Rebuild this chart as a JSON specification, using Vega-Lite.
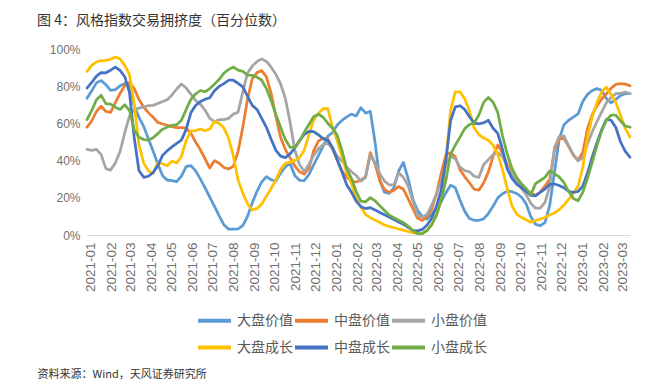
{
"$schema": "https://vega.github.io/schema/vega-lite/v6.json",
"width": 543, "height": 186,
"autosize": {"type": "none"},
"padding": {"left": 87, "top": 49, "right": 37, "bottom": 153},
"background": "white",
"config": {"view": {"stroke": null}, "font": "Noto Sans CJK SC"},
"title": {"text": "图 4：风格指数交易拥挤度（百分位数）", "anchor": "start", "frame": "group", "dx": -50, "offset": 15, "fontSize": 14, "fontWeight": "normal", "color": "#333333", "font": "Noto Sans CJK SC"},
"data": {"values": [
{"t":"2020/12/27","a":73.5,"b":58,"c":46,"d":88,"e":79,"f":62},
{"t":"2021/01/03","a":77.6,"b":61.3,"c":45.5,"d":91.2,"e":82,"f":67},
{"t":"2021/01/10","a":81.8,"b":66.4,"c":46,"d":93,"e":85.4,"f":72.7},
{"t":"2021/01/17","a":83,"b":69.3,"c":43.2,"d":93.8,"e":87.3,"f":75.1},
{"t":"2021/01/24","a":80.8,"b":66.4,"c":35.7,"d":93.8,"e":87.2,"f":70.6},
{"t":"2021/01/31","a":77.8,"b":65.9,"c":34.9,"d":94.5,"e":88.6,"f":70.4},
{"t":"2021/02/07","a":78.1,"b":71,"c":38.7,"d":95.7,"e":90.3,"f":68.7},
{"t":"2021/02/14","a":80.2,"b":76.1,"c":44.9,"d":94.7,"e":88.5,"f":67.5},
{"t":"2021/02/21","a":81.4,"b":80.4,"c":55,"d":91.2,"e":85.1,"f":70},
{"t":"2021/02/28","a":80,"b":82,"c":63.9,"d":86.2,"e":76.5,"f":67},
{"t":"2021/03/07","a":69.5,"b":78.7,"c":67.5,"d":70.5,"e":52.3,"f":56.5},
{"t":"2021/03/14","a":63.3,"b":72.9,"c":68.2,"d":48.3,"e":34.7,"f":52.5},
{"t":"2021/03/21","a":58.4,"b":68.8,"c":68.9,"d":38.8,"e":31,"f":51.3},
{"t":"2021/03/28","a":51.8,"b":65.8,"c":69.5,"d":34.5,"e":31.6,"f":51},
{"t":"2021/04/04","a":45.2,"b":63.3,"c":69.7,"d":33.1,"e":33.6,"f":52.3},
{"t":"2021/04/11","a":38.2,"b":60.5,"c":70.7,"d":39,"e":37.3,"f":54.5},
{"t":"2021/04/18","a":31.8,"b":59.7,"c":71.8,"d":38.3,"e":42.8,"f":56.8},
{"t":"2021/04/25","a":29.5,"b":59,"c":72.7,"d":37.2,"e":45.3,"f":58.1},
{"t":"2021/05/02","a":29.2,"b":58.2,"c":75.3,"d":39.8,"e":47.4,"f":59},
{"t":"2021/05/09","a":28.7,"b":57.7,"c":78.5,"d":38.7,"e":49.3,"f":59.3},
{"t":"2021/05/16","a":31.7,"b":57.7,"c":81.2,"d":42.2,"e":51,"f":61.7},
{"t":"2021/05/23","a":36.8,"b":57.4,"c":79,"d":50.8,"e":56.8,"f":67.5},
{"t":"2021/05/30","a":37.3,"b":54.8,"c":75.7,"d":56,"e":65.8,"f":72.9},
{"t":"2021/06/06","a":34.5,"b":50,"c":72.3,"d":56.1,"e":69.6,"f":75.8},
{"t":"2021/06/13","a":30.2,"b":45.8,"c":70.3,"d":57,"e":71.7,"f":77.7},
{"t":"2021/06/20","a":25.4,"b":41,"c":67.2,"d":56,"e":73,"f":77},
{"t":"2021/06/27","a":20.4,"b":36,"c":62.7,"d":57,"e":73.8,"f":78.7},
{"t":"2021/07/04","a":15.4,"b":40,"c":61,"d":61,"e":77.6,"f":81.1},
{"t":"2021/07/11","a":10.3,"b":38.6,"c":62,"d":60,"e":79.9,"f":83.7},
{"t":"2021/07/18","a":5.5,"b":36.3,"c":62,"d":57.5,"e":81.4,"f":87},
{"t":"2021/07/25","a":3.1,"b":35.5,"c":62.7,"d":52,"e":83.2,"f":89},
{"t":"2021/08/01","a":3.1,"b":37,"c":65,"d":42.5,"e":83.2,"f":90.3},
{"t":"2021/08/08","a":3.3,"b":45,"c":66,"d":29.5,"e":81.5,"f":88.6},
{"t":"2021/08/15","a":5,"b":58,"c":77,"d":22.5,"e":79.7,"f":88},
{"t":"2021/08/22","a":10,"b":73,"c":87,"d":16.8,"e":74.6,"f":85.9},
{"t":"2021/08/29","a":17.3,"b":84,"c":90.8,"d":13.4,"e":69.7,"f":85.8},
{"t":"2021/09/05","a":23.5,"b":87.3,"c":93.3,"d":14.3,"e":67.5,"f":84.9},
{"t":"2021/09/12","a":28.5,"b":88.4,"c":94.7,"d":16.6,"e":62.7,"f":83.2},
{"t":"2021/09/19","a":31.4,"b":85,"c":93.3,"d":20.9,"e":57.9,"f":78.7},
{"t":"2021/09/26","a":29.7,"b":76.2,"c":90.2,"d":25,"e":51.5,"f":72.3},
{"t":"2021/10/03","a":29,"b":63.7,"c":86.4,"d":29.6,"e":45.5,"f":64.8},
{"t":"2021/10/10","a":33.2,"b":52.5,"c":81.2,"d":35.3,"e":42.4,"f":58},
{"t":"2021/10/17","a":36.6,"b":46,"c":73.5,"d":38.5,"e":41.6,"f":51.4},
{"t":"2021/10/24","a":38.5,"b":41.5,"c":60.7,"d":39.2,"e":43.6,"f":47.2},
{"t":"2021/10/31","a":32,"b":37.2,"c":45.8,"d":40,"e":46.7,"f":47},
{"t":"2021/11/07","a":29.4,"b":34,"c":37.9,"d":41.6,"e":50.8,"f":50.4},
{"t":"2021/11/14","a":29.2,"b":32.8,"c":34.1,"d":45.6,"e":53.9,"f":55.2},
{"t":"2021/11/21","a":32.5,"b":35.8,"c":37.9,"d":53.8,"e":55.7,"f":59.4},
{"t":"2021/11/28","a":37.7,"b":45.2,"c":42.7,"d":61.8,"e":55.6,"f":63.6},
{"t":"2021/12/05","a":42.7,"b":50.5,"c":46.3,"d":65.3,"e":53.9,"f":65},
{"t":"2021/12/12","a":47.8,"b":52,"c":48.6,"d":67.9,"e":51.8,"f":63.3},
{"t":"2021/12/19","a":53,"b":51.7,"c":49.3,"d":67.9,"e":50.9,"f":60.1},
{"t":"2021/12/26","a":55.1,"b":46.3,"c":46.5,"d":57.8,"e":47,"f":57.4},
{"t":"2022/01/02","a":59.2,"b":40.2,"c":42.4,"d":50.5,"e":40.5,"f":53.6},
{"t":"2022/01/09","a":61.6,"b":34.5,"c":39.8,"d":42.2,"e":33.8,"f":45.5},
{"t":"2022/01/16","a":63.5,"b":31,"c":36.4,"d":33.7,"e":27,"f":35.5},
{"t":"2022/01/23","a":65,"b":29,"c":34,"d":27.5,"e":23,"f":30.5},
{"t":"2022/01/30","a":64,"b":28.5,"c":32,"d":19.8,"e":18.2,"f":23.5},
{"t":"2022/02/06","a":68.5,"b":29.4,"c":29,"d":15,"e":15.2,"f":18.2},
{"t":"2022/02/13","a":65.5,"b":31.4,"c":31,"d":11,"e":14.2,"f":17.8},
{"t":"2022/02/20","a":66.5,"b":44.3,"c":43,"d":9.3,"e":14.7,"f":20.1},
{"t":"2022/02/27","a":50,"b":38.2,"c":39,"d":8,"e":13.5,"f":18.4},
{"t":"2022/03/06","a":29.6,"b":29.2,"c":33,"d":6.8,"e":12.1,"f":15.8},
{"t":"2022/03/13","a":23,"b":24.5,"c":29,"d":5.4,"e":10.9,"f":13.2},
{"t":"2022/03/20","a":22.4,"b":22.9,"c":27,"d":4.6,"e":9.6,"f":10.7},
{"t":"2022/03/27","a":25.3,"b":24,"c":27,"d":3.9,"e":8.3,"f":9.3},
{"t":"2022/04/03","a":34.4,"b":26.1,"c":33.5,"d":3.2,"e":7,"f":8},
{"t":"2022/04/10","a":39,"b":24.6,"c":31,"d":2.6,"e":5.8,"f":6.7},
{"t":"2022/04/17","a":30.5,"b":19.6,"c":26.5,"d":1.9,"e":4.1,"f":4.8},
{"t":"2022/04/24","a":19.4,"b":14.3,"c":18.5,"d":1.3,"e":2.5,"f":2.4},
{"t":"2022/05/01","a":13.3,"b":9.1,"c":10.8,"d":0.7,"e":2.2,"f":0.8},
{"t":"2022/05/08","a":10,"b":7.8,"c":9.5,"d":0.8,"e":3,"f":0.8},
{"t":"2022/05/15","a":8.6,"b":9.7,"c":11,"d":2.4,"e":5.2,"f":2.4},
{"t":"2022/05/22","a":11.2,"b":13.9,"c":16,"d":5.6,"e":9,"f":5.5},
{"t":"2022/05/29","a":14.3,"b":22,"c":22,"d":11,"e":15.4,"f":10.5},
{"t":"2022/06/05","a":17.8,"b":33.1,"c":29,"d":20,"e":24,"f":18.3},
{"t":"2022/06/12","a":22.6,"b":43,"c":38,"d":40,"e":40,"f":29.3},
{"t":"2022/06/19","a":26.8,"b":44.2,"c":42.5,"d":67,"e":61.4,"f":43.4},
{"t":"2022/06/26","a":25.4,"b":42,"c":41,"d":77,"e":68.9,"f":48.3},
{"t":"2022/07/03","a":18.7,"b":35,"c":36.5,"d":77,"e":69.5,"f":52.6},
{"t":"2022/07/10","a":12.7,"b":31.3,"c":34.6,"d":73.2,"e":67.5,"f":57.2},
{"t":"2022/07/17","a":8.9,"b":28.1,"c":34,"d":66.8,"e":63.6,"f":59.4},
{"t":"2022/07/24","a":7.9,"b":24.6,"c":31.6,"d":57.5,"e":60.2,"f":60.2},
{"t":"2022/07/31","a":7.9,"b":24.1,"c":31,"d":54,"e":59.8,"f":64.5},
{"t":"2022/08/07","a":8.7,"b":28,"c":37.8,"d":52.1,"e":60.3,"f":71.3},
{"t":"2022/08/14","a":11.5,"b":33.8,"c":40.5,"d":50.9,"e":61.7,"f":74},
{"t":"2022/08/21","a":15.4,"b":42.3,"c":43.2,"d":48.3,"e":57.4,"f":71.4},
{"t":"2022/08/28","a":20,"b":48.4,"c":44.3,"d":43.4,"e":54.6,"f":65.9},
{"t":"2022/09/04","a":22.2,"b":44,"c":42.2,"d":35,"e":46,"f":53.2},
{"t":"2022/09/11","a":23.6,"b":38.2,"c":36.5,"d":24.9,"e":35.5,"f":43.6},
{"t":"2022/09/18","a":23.3,"b":32.5,"c":32.6,"d":15.6,"e":30.5,"f":35.8},
{"t":"2022/09/25","a":22.3,"b":28.7,"c":28.3,"d":11.2,"e":27.4,"f":31},
{"t":"2022/10/02","a":20.4,"b":26.2,"c":25.2,"d":9.5,"e":25.5,"f":27.5},
{"t":"2022/10/09","a":16.8,"b":24.3,"c":21.7,"d":8.2,"e":23.5,"f":25},
{"t":"2022/10/16","a":9.8,"b":22.6,"c":17,"d":6.9,"e":21.3,"f":21.7},
{"t":"2022/10/23","a":5.7,"b":21.3,"c":14.4,"d":7.8,"e":21,"f":27.6},
{"t":"2022/10/30","a":5,"b":23.1,"c":14.4,"d":8.6,"e":23,"f":29.3},
{"t":"2022/11/06","a":6.7,"b":26.5,"c":17.5,"d":9.4,"e":24.7,"f":31},
{"t":"2022/11/13","a":16,"b":29.9,"c":26,"d":10.7,"e":27.3,"f":34.5},
{"t":"2022/11/20","a":33.6,"b":45.3,"c":47,"d":11.8,"e":27.4,"f":33},
{"t":"2022/11/27","a":51.5,"b":51.7,"c":53,"d":13.6,"e":26.6,"f":31.3},
{"t":"2022/12/04","a":59.2,"b":51.9,"c":53.3,"d":16.1,"e":25.4,"f":28.2},
{"t":"2022/12/11","a":61.7,"b":47.6,"c":48.1,"d":19.2,"e":23.5,"f":23.5},
{"t":"2022/12/18","a":63.4,"b":42.9,"c":43.2,"d":22.4,"e":22.9,"f":19.6},
{"t":"2022/12/25","a":65.1,"b":40.2,"c":39.8,"d":26.3,"e":23.4,"f":18.4},
{"t":"2023/01/01","a":71.8,"b":44.5,"c":41.5,"d":36.2,"e":26.3,"f":22.9},
{"t":"2023/01/08","a":75.6,"b":57.1,"c":49,"d":53,"e":33.3,"f":30.5},
{"t":"2023/01/15","a":77.7,"b":64.7,"c":55.5,"d":63.5,"e":42,"f":39.1},
{"t":"2023/01/22","a":78.7,"b":69.4,"c":61,"d":71.2,"e":49.6,"f":48.1},
{"t":"2023/01/29","a":77.8,"b":73.1,"c":66.1,"d":77,"e":56.6,"f":56},
{"t":"2023/02/05","a":73.3,"b":75.9,"c":71.2,"d":79.5,"e":62.2,"f":61.7},
{"t":"2023/02/12","a":71.1,"b":78.9,"c":73.9,"d":75.5,"e":61.7,"f":64.5},
{"t":"2023/02/19","a":72.9,"b":81,"c":76,"d":71.3,"e":57.8,"f":64.5},
{"t":"2023/02/26","a":75,"b":81.4,"c":76.1,"d":64.3,"e":50,"f":61.3},
{"t":"2023/03/05","a":76,"b":81.1,"c":76.9,"d":57.3,"e":44.9,"f":58.6},
{"t":"2023/03/12","a":76,"b":80.2,"c":76,"d":52.6,"e":41.8,"f":58}
]},
"transform": [{"fold": ["a","b","c","d","e","f"], "as": ["s","v"]}],
"mark": {"type": "line", "strokeWidth": 2.75, "strokeJoin": "round", "strokeCap": "round"},
"encoding": {
  "x": {"field": "t", "type": "temporal", "scale": {"nice": false, "padding": 0},
    "axis": {"format": "%Y-%m", "tickCount": {"interval": "month", "step": 1}, "labelAngle": 270, "labelPadding": 7, "ticks": false, "grid": false, "domainColor": "#D9D9D9", "domainWidth": 1, "labelColor": "#707070", "labelFontSize": 13.5, "labelFont": "Liberation Sans", "labelOverlap": false, "labelFlush": false,
      "title": "资料来源：Wind，天风证券研究所", "titleX": -50, "titleY": 139, "titleAlign": "left", "titleAnchor": "start", "titleBaseline": "middle", "titleFontSize": 11, "titleFontWeight": "normal", "titleColor": "#333333", "titleFont": "Noto Sans CJK SC"}},
  "y": {"field": "v", "type": "quantitative", "scale": {"domain": [0, 100], "nice": false},
    "axis": {"values": [0, 20, 40, 60, 80, 100], "labelExpr": "datum.value + '%'", "domain": false, "ticks": false, "grid": false, "labelPadding": 7, "labelColor": "#707070", "labelFontSize": 12, "labelFont": "Liberation Sans", "title": null}},
  "color": {"field": "s", "type": "nominal",
    "scale": {"domain": ["a","b","c","d","e","f"], "range": ["#5B9BD5","#ED7D31","#A5A5A5","#FFC000","#4472C4","#70AD47"]},
    "legend": {"orient": "none", "legendX": 109, "legendY": 253, "columns": 3, "direction": "horizontal", "symbolType": "stroke", "symbolSize": 1089, "symbolStrokeWidth": 4, "labelFontSize": 14, "labelFont": "Noto Sans CJK SC", "labelColor": "#595959", "labelOffset": 4, "rowPadding": -12, "columnPadding": -8, "title": null,
      "labelExpr": "datum.label == 'a' ? '大盘价值' : datum.label == 'b' ? '中盘价值' : datum.label == 'c' ? '小盘价值' : datum.label == 'd' ? '大盘成长' : datum.label == 'e' ? '中盘成长' : '小盘成长'"}}
}
}
